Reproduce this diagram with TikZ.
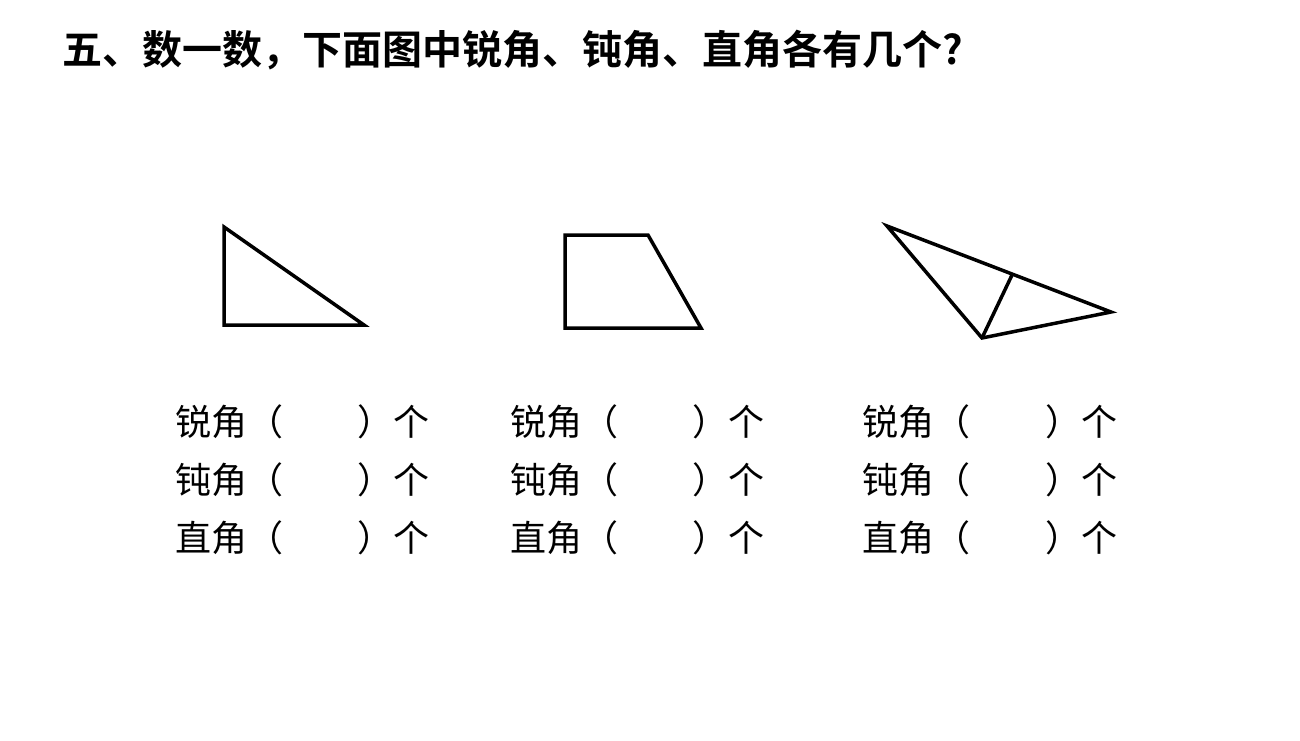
\documentclass[tikz,border=0pt]{standalone}
\usepackage{fontspec}
\newfontfamily\cjk{Noto Sans CJK SC}[BoldFont={Noto Sans CJK SC Bold}]
\begin{document}
\begin{tikzpicture}[x=1pt,y=-1pt,
  figline/.style={line width=3.5pt,line join=miter},
  lbl/.style={inner sep=0pt,font=\cjk\fontsize{36}{36}\selectfont},
  ttl/.style={inner sep=0pt,font=\cjk\bfseries\fontsize{40}{40}\selectfont}]
\useasboundingbox (0,0) rectangle (1300,740);
\node[ttl,anchor=west] (title) at (62,50) {五、数一数，下面图中锐角、钝角、直角各有几个?};
% triangle 1
\coordinate (a1) at (224,227);
\coordinate (a2) at (224,325);
\coordinate (a3) at (364,325);
\draw[figline] (a1) -- (a2) -- (a3) -- cycle;
% trapezoid
\coordinate (b1) at (565,235);
\coordinate (b2) at (648,235);
\coordinate (b3) at (701,328);
\coordinate (b4) at (565,328);
\draw[figline] (b1) -- (b2) -- (b3) -- (b4) -- cycle;
% triangle 3
\coordinate (c1) at (887,226);
\coordinate (c2) at (1111,312);
\coordinate (c3) at (982,338);
\coordinate (c4) at (1012,275);
\draw[figline] (c1) -- (c2) -- (c3) -- cycle;
\draw[figline] (c3) -- (c4);
% labels
\foreach \x/\X/\i in {175/430/1,510/765/2,862/1118/3}{
  \node[lbl,anchor=west] (acl\i) at (\x,422) {锐角（};
  \node[lbl,anchor=east] (acr\i) at (\X,422) {）个};
  \node[lbl,anchor=west] (obl\i) at (\x,480) {钝角（};
  \node[lbl,anchor=east] (obr\i) at (\X,480) {）个};
  \node[lbl,anchor=west] (rtl\i) at (\x,538) {直角（};
  \node[lbl,anchor=east] (rtr\i) at (\X,538) {）个};
}
\end{tikzpicture}
\end{document}
